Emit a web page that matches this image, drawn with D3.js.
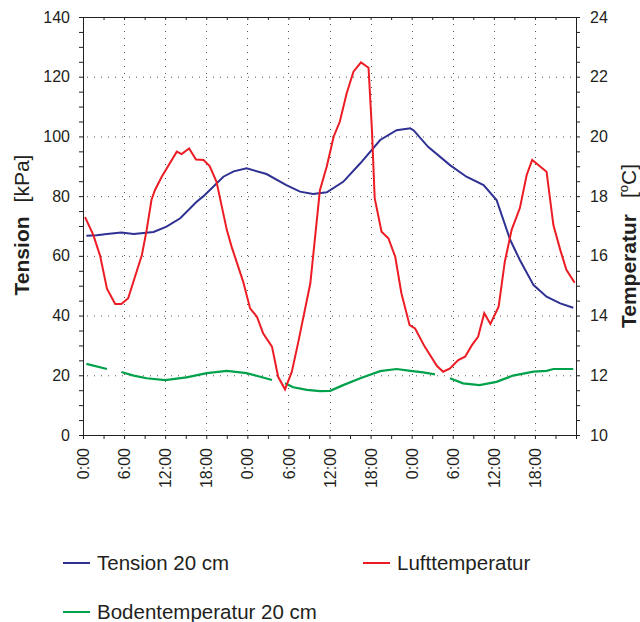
<!DOCTYPE html>
<html>
<head>
<meta charset="utf-8">
<script src="https://cdn.jsdelivr.net/npm/d3@7"></script>
<style>
  body { margin: 0; background: #fff; }
  svg { display: block; font-family: "Liberation Sans", Arial, sans-serif; }
</style>
</head>
<body>
<svg id="chart" width="640" height="622"></svg>
<script>
// hours since start (0:00 first day) and readings
const tensionHours = [0.5, 2, 3.5, 5.6, 7.4, 10.3, 12.2, 14.2, 16.6, 17.6, 20.5, 22, 23.9, 26.8, 29.7, 31.7, 33.6, 35.6, 38, 40.5, 43.4, 45.8, 47.8, 48.3, 50.4, 53.6, 56, 58.5, 60.4, 62.4, 63.8, 65.8, 67.7, 69.7, 71.6]
const tensionValues = [66.7, 66.9, 67.3, 67.8, 67.3, 68, 69.8, 72.6, 78.1, 80, 86.5, 88.3, 89.3, 87.4, 83.7, 81.5, 80.7, 81.3, 84.8, 91, 98.8, 102.1, 102.7, 102, 96.5, 90.4, 86.5, 83.7, 78.7, 65.3, 58.6, 50.2, 46.3, 44.1, 42.6]

const airHours = [0.3, 1.5, 2.5, 3.5, 4.7, 5.6, 6.6, 8.6, 9.3, 10, 10.5, 11.5, 13.7, 14.4, 15.5, 16.5, 17.6, 18.5, 19.5, 21, 21.7, 23.4, 24.4, 25.4, 26.3, 27.6, 28.5, 29.5, 30.5, 31.4, 33.2, 34.6, 35.6, 36.6, 37.5, 38.5, 39.5, 40.6, 41.7, 42.2, 42.6, 43.6, 44.6, 45.6, 46.5, 47.7, 48.5, 49.9, 51.7, 52.6, 53.6, 54.8, 55.8, 56.8, 57.7, 58.6, 59.5, 60.7, 61.6, 62.6, 63.8, 64.8, 65.6, 67.7, 68.7, 69.7, 70.6, 71.8]
const airTemps = [17.3, 16.7, 16.0, 14.9, 14.39, 14.39, 14.58, 16.03, 16.87, 17.87, 18.2, 18.65, 19.49, 19.41, 19.6, 19.23, 19.21, 19.01, 18.48, 16.87, 16.31, 15.13, 14.24, 13.96, 13.41, 12.96, 11.95, 11.53, 12.12, 13.07, 15.08, 18.2, 18.99, 19.99, 20.49, 21.44, 22.17, 22.48, 22.3, 20.21, 17.93, 16.81, 16.59, 15.97, 14.75, 13.68, 13.57, 12.96, 12.31, 12.12, 12.23, 12.51, 12.62, 13.01, 13.29, 14.08, 13.72, 14.3, 15.8, 16.87, 17.6, 18.71, 19.21, 18.82, 17.03, 16.2, 15.53, 15.1]

// null = missing reading (gap in the line)
const soilHours = [0.5, 3.5, 4.5, 5.6, 7.4, 9.3, 12, 15.1, 18.1, 21, 23.9, 25.9, 27.6, 28.5, 29.5, 30.7, 32.7, 34.6, 36.1, 38, 40.5, 43.4, 45.8, 47.8, 49.7, 51.4, 52.5, 53.6, 55.5, 57.9, 60.4, 62.8, 65.8, 67.7, 68.7, 71.6]
const soilTemps = [12.38, 12.21, null, 12.11, 11.99, 11.9, 11.84, 11.93, 12.07, 12.15, 12.07, 11.95, 11.84, null, 11.73, 11.6, 11.51, 11.47, 11.48, 11.67, 11.9, 12.14, 12.21, 12.15, 12.1, 12.03, null, 11.9, 11.73, 11.67, 11.78, 11.99, 12.12, 12.15, 12.21, 12.21]

const seriesNames = [`Tension 20 cm`, `Lufttemperatur`, `Bodentemperatur 20 cm`]
const BLUE = `#2e3192`
const RED = `#ed1c24`
const GREEN = `#00a14b`
const INK = `#231f20`

const svg = d3.select(`#chart`)
const plotLeft = 83, plotRight = 576, plotTop = 17, plotBottom = 435

const x = d3.scaleLinear().domain([0, 72]).range([plotLeft, plotRight])
const yL = d3.scaleLinear().domain([0, 140]).range([plotBottom, plotTop])
const yR = d3.scaleLinear().domain([10, 24]).range([plotBottom, plotTop])

// dotted grid
const grid = svg.append(`g`).attr(`stroke`, `#555`).attr(`stroke-width`, 1).attr(`stroke-dasharray`, `1,6`)
grid.selectAll(`.h`).data(d3.range(20, 140, 20)).join(`line`)
  .attr(`x1`, plotLeft + 4).attr(`x2`, plotRight).attr(`y1`, d => yL(d) + 0.5).attr(`y2`, d => yL(d) + 0.5)
grid.selectAll(`.v`).data(d3.range(6, 72, 6)).join(`line`)
  .attr(`x1`, d => Math.round(x(d)) + 0.5).attr(`x2`, d => Math.round(x(d)) + 0.5)
  .attr(`y1`, plotBottom - 4).attr(`y2`, plotTop)

// axes
function styleAxis(g) {
  g.select(`.domain`).attr(`stroke`, INK)
  g.selectAll(`.tick line`).attr(`stroke`, INK)
  g.selectAll(`.tick text`).attr(`fill`, INK).attr(`font-size`, 16)
  g.attr(`font-family`, null)
}

svg.append(`g`).attr(`transform`, `translate(${plotLeft},0)`)
  .call(d3.axisLeft(yL).tickValues(d3.range(0, 141, 5)).tickSize(4).tickPadding(9).tickSizeOuter(0)
    .tickFormat(d => d % 20 === 0 ? d : ``))
  .call(styleAxis)

svg.append(`g`).attr(`transform`, `translate(${plotRight},0)`)
  .call(d3.axisRight(yR).tickValues(d3.range(10, 24.01, 0.5)).tickSize(4).tickPadding(10).tickSizeOuter(0)
    .tickFormat(d => d % 2 === 0 ? d : ``))
  .call(styleAxis)

svg.append(`g`).attr(`transform`, `translate(0,${plotTop})`)
  .call(d3.axisBottom(x).tickValues(d3.range(0, 73, 3)).tickSize(3).tickSizeOuter(0).tickFormat(``))
  .call(styleAxis)

const xAxis = svg.append(`g`).attr(`transform`, `translate(0,${plotBottom})`)
  .call(d3.axisBottom(x).tickValues(d3.range(0, 73, 3)).tickSize(4).tickSizeOuter(0)
    .tickFormat(d => d % 6 === 0 && d < 72 ? `${d % 24}:00` : ``))
  .call(styleAxis)
xAxis.selectAll(`.tick text`)
  .attr(`text-anchor`, `end`)
  .attr(`transform`, `rotate(-90)`)
  .attr(`x`, -13).attr(`y`, 0).attr(`dy`, `0.35em`)

// axis titles
const tl = svg.append(`text`).attr(`transform`, `translate(29,225) rotate(-90)`)
  .attr(`text-anchor`, `middle`).attr(`font-size`, 21).attr(`fill`, INK)
tl.append(`tspan`).attr(`font-weight`, `bold`).text(`Tension`)
tl.append(`tspan`).attr(`dx`, 14).text(`[kPa]`)

const tr = svg.append(`text`).attr(`transform`, `translate(636,246) rotate(-90)`)
  .attr(`text-anchor`, `middle`).attr(`font-size`, 21).attr(`fill`, INK)
tr.append(`tspan`).attr(`font-weight`, `bold`).text(`Temperatur`)
tr.append(`tspan`).attr(`dx`, 16).text(`[`)
tr.append(`tspan`).attr(`font-size`, 13).attr(`dy`, -8).text(`o`)
tr.append(`tspan`).attr(`dy`, 8).text(`C]`)

// lines
const lineL = d3.line().x(d => x(d[0])).y(d => yL(d[1]))
const lineR = d3.line().defined(d => d[1] != null).x(d => x(d[0])).y(d => yR(d[1]))

svg.append(`path`).datum(d3.zip(tensionHours, tensionValues))
  .attr(`d`, lineL).attr(`fill`, `none`).attr(`stroke`, BLUE).attr(`stroke-width`, 2)
svg.append(`path`).datum(d3.zip(soilHours, soilTemps))
  .attr(`d`, lineR).attr(`fill`, `none`).attr(`stroke`, GREEN).attr(`stroke-width`, 2.2)
svg.append(`path`).datum(d3.zip(airHours, airTemps))
  .attr(`d`, lineR).attr(`fill`, `none`).attr(`stroke`, RED).attr(`stroke-width`, 2)

// legend
const legendPos = [[63, 563], [363, 563], [63, 612]]
const legendColors = [BLUE, RED, GREEN]
const lg = svg.append(`g`).selectAll(`g`).data(seriesNames).join(`g`)
  .attr(`transform`, (d, i) => `translate(${legendPos[i][0]},${legendPos[i][1]})`)
lg.append(`line`).attr(`x1`, 0).attr(`x2`, 27).attr(`stroke`, (d, i) => legendColors[i]).attr(`stroke-width`, 2)
lg.append(`text`).attr(`x`, 34).attr(`dy`, `0.35em`).attr(`font-size`, 20.5).attr(`fill`, INK).text(d => d)
</script>
</body>
</html>
